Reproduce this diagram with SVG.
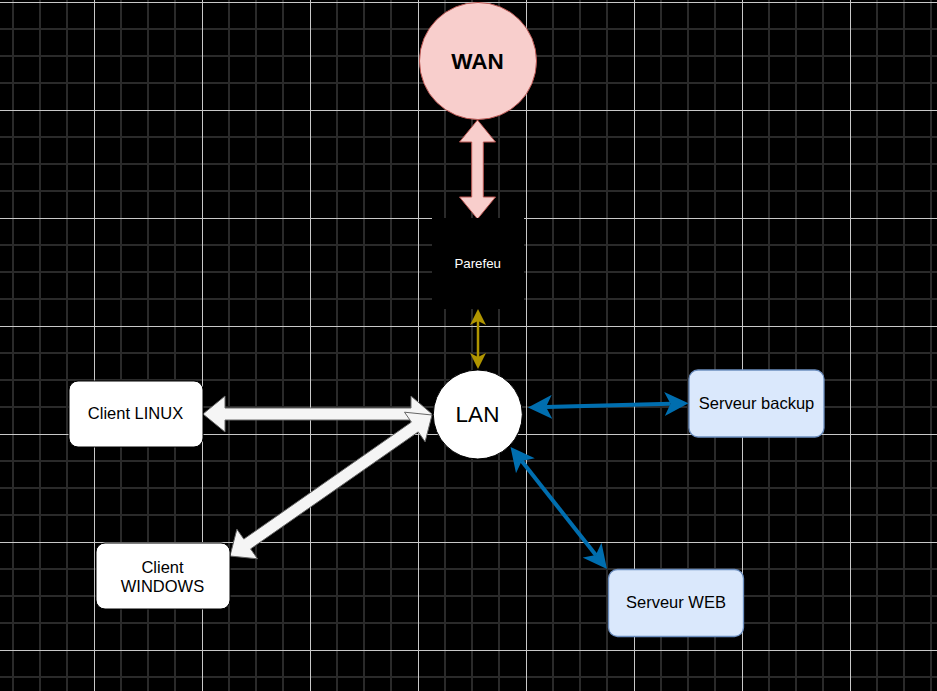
<svg xmlns="http://www.w3.org/2000/svg" width="937" height="691" viewBox="0 0 937 691">
<style>
.minor{stroke:#2a2a2a;stroke-width:2;fill:none}
.major{stroke:#c8c8c8;stroke-width:1;fill:none}
.lbl{font-family:"Liberation Sans",Arial,sans-serif;text-anchor:middle;fill:#000}
.client{fill:#ffffff;stroke:#000000;stroke-width:1}
.server{fill:#dae8fc;stroke:#6c8ebf;stroke-width:1.3}
.flex{fill:#f5f5f5;stroke:#666666;stroke-width:1}
.gold{stroke:#B09500;stroke-width:2.5;fill:none}
.blue{stroke:#006EAF;stroke-width:4;fill:none}
</style>
<defs>
<marker id="mGold" viewBox="0 0 16 16" refX="4" refY="8" markerWidth="16" markerHeight="16" markerUnits="userSpaceOnUse" orient="auto-start-reverse">
<path d="M16,8 L0,0 L4,8 L0,16 Z" fill="#B09500"/>
</marker>
<marker id="mBlue" viewBox="0 0 24 24" refX="6" refY="12" markerWidth="24" markerHeight="24" markerUnits="userSpaceOnUse" orient="auto-start-reverse">
<path d="M24,12 L0,0 L6,12 L0,24 Z" fill="#006EAF"/>
</marker>
</defs>
<rect x="0" y="0" width="937" height="691" fill="#000000"/>
<g id="grid">
<path class="minor" d="M13 0V691M40 0V691M67 0V691M121 0V691M148 0V691M175 0V691M229 0V691M256 0V691M283 0V691M337 0V691M364 0V691M391 0V691M445 0V691M472 0V691M499 0V691M553 0V691M580 0V691M607 0V691M661 0V691M688 0V691M715 0V691M769 0V691M796 0V691M823 0V691M877 0V691M904 0V691M931 0V691"/>
<path class="minor" d="M0 29H937M0 56H937M0 83H937M0 137H937M0 164H937M0 191H937M0 245H937M0 272H937M0 299H937M0 353H937M0 380H937M0 407H937M0 461H937M0 488H937M0 515H937M0 569H937M0 596H937M0 623H937M0 677H937"/>
<path class="major" d="M94.5 0V691M202.5 0V691M310.5 0V691M418.5 0V691M526.5 0V691M634.5 0V691M742.5 0V691M850.5 0V691"/>
<path class="major" d="M0 2.5H937M0 110.5H937M0 218.5H937M0 326.5H937M0 434.5H937M0 542.5H937M0 650.5H937"/>
</g>
<g id="connectors">
<polygon id="e-wan-parefeu" points="477.5,120 495.5,142 483.3,142 483.3,197 495.5,197 477.5,219 459.5,197 471.7,197 471.7,142 459.5,142" fill="#f8cecc" stroke="#b85450" stroke-width="1"/>
<line id="e-parefeu-lan" class="gold" x1="478" y1="321" x2="478" y2="357" marker-start="url(#mGold)" marker-end="url(#mGold)"/>
<polygon id="e-linux-lan" class="flex" points="203,414 225,432 225,420 411,420 411,432 432,414 411,396 411,408 225,408 225,396"/>
<polygon id="e-windows-lan" class="flex" points="230,556 257.5,558.8 250.6,548.9 418.2,431.9 425.1,441.8 432,415 404.5,412.2 411.4,422.1 243.8,539.1 236.9,529.2"/>
<line id="e-lan-backup" class="blue" x1="546" y1="407.03" x2="670.5" y2="403.77" marker-start="url(#mBlue)" marker-end="url(#mBlue)"/>
<line id="e-lan-web" class="blue" x1="521.7" y1="461.1" x2="595.8" y2="554.9" marker-start="url(#mBlue)" marker-end="url(#mBlue)"/>
</g>
<g id="wan">
<circle cx="478" cy="61" r="58.5" fill="#f8cecc" stroke="#b85450" stroke-width="1"/>
<text class="lbl" x="477.5" y="68.5" font-size="22.5" font-weight="bold">WAN</text>
</g>
<g id="parefeu">
<rect x="432" y="218" width="92" height="91" fill="#000000"/>
<text class="lbl" x="477.7" y="268" font-size="13.3" fill="#ffffff" style="fill:#ffffff">Parefeu</text>
</g>
<g id="lan">
<circle cx="477.8" cy="414.5" r="44.5" fill="#ffffff" stroke="#000000" stroke-width="1"/>
<text class="lbl" x="477.5" y="421.5" font-size="22.5">LAN</text>
</g>
<g id="client-linux">
<rect class="client" x="69" y="381" width="134" height="66" rx="9"/>
<text class="lbl" x="135.5" y="419" font-size="16.5">Client LINUX</text>
</g>
<g id="client-windows">
<rect class="client" x="96" y="543" width="134" height="66" rx="9"/>
<text class="lbl" x="162.5" y="572.5" font-size="16.5">Client</text>
<text class="lbl" x="162.5" y="592" font-size="16.5">WINDOWS</text>
</g>
<g id="serveur-backup">
<rect class="server" x="689" y="370" width="135" height="67" rx="9"/>
<text class="lbl" x="756.5" y="409" font-size="16.5">Serveur backup</text>
</g>
<g id="serveur-web">
<rect class="server" x="608.5" y="569.5" width="135" height="67" rx="9"/>
<text class="lbl" x="676" y="608" font-size="16.5">Serveur WEB</text>
</g>
</svg>
